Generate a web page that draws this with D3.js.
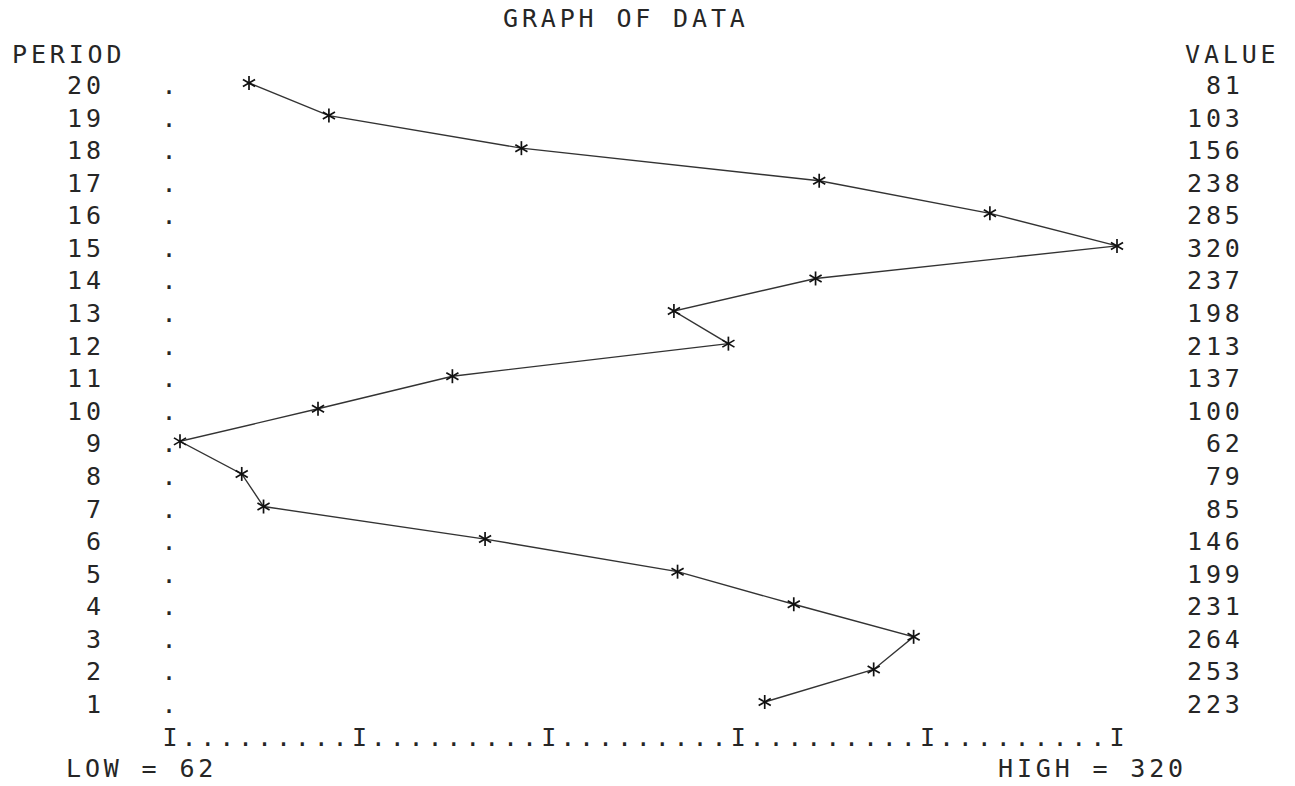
<!DOCTYPE html>
<html>
<head>
<meta charset="utf-8">
<script src="https://cdn.jsdelivr.net/npm/d3@7"></script>
<style>
  html, body { margin: 0; padding: 0; background: #fff; }
  svg { display: block; }
  text { font-family: "DejaVu Sans Mono", monospace; font-size: 25px; fill: #262626; }
</style>
</head>
<body>
<svg id="chart" width="1295" height="786"></svg>
<script>
// ---- data ----
const periods = [1,2,3,4,5,6,7,8,9,10,11,12,13,14,15,16,17,18,19,20];
const values  = [223,253,264,231,199,146,85,79,62,100,137,213,198,237,320,285,238,156,103,81];
const title = "GRAPH OF DATA";
const leftHeader = "PERIOD";
const rightHeader = "VALUE";
const low = 62, high = 320;
const tickCount = 6;            // number of "I" marks on the value axis
const dotsBetween = 9;          // dots between "I" marks

// ---- layout ----
const adv = 18.9;               // character cell width
const fs = 25;
const ls = adv - 0.602 * fs;    // letter spacing to reach cell width
const half = 0.602 * fs / 2;    // half glyph width

const svg = d3.select("#chart");
const xAxis = d3.scaleLinear().domain([low, high]).range([170, 1117]);
const x = d3.scaleLinear().domain([low, high]).range([180, 1117]);
const y = d3.scaleLinear().domain([20, 1]).range([83, 702]);
const baseOff = 11;

function txt(str, xs, yb) {
  return svg.append("text").attr("x", xs).attr("y", yb)
    .style("letter-spacing", ls + "px").text(str);
}
const rightAlign = (str, rightEdge) => rightEdge - str.length * adv;

// title & headers
txt(title, 503, 27);
txt(leftHeader, 12, 63);
txt(rightHeader, 1185, 63);

// period labels, dots, values
periods.forEach((p, i) => {
  const yb = y(p) + baseOff;
  const ps = String(p);
  txt(ps, rightAlign(ps, 104.8), yb);
  txt(".", xAxis(low) - half - 1, yb);
  const vs = String(values[i]);
  txt(vs, rightAlign(vs, 1243.7), yb);
});

// bottom axis made of I and dots
const axisY = y(0) + baseOff;
const tickVals = d3.range(tickCount).map(k => low + k * (high - low) / (tickCount - 1));
tickVals.forEach((t, k) => {
  txt("I", xAxis(t) - half, axisY);
  if (k < tickCount - 1) {
    txt(".".repeat(dotsBetween), xAxis(t) - half + adv, axisY);
  }
});

txt("LOW = " + low, 66, 777);
txt("HIGH = " + high, 998, 777);

// line
const pts = periods.map((p, i) => [x(values[i]), y(p)]);
svg.append("path")
  .attr("d", d3.line()(pts))
  .attr("fill", "none")
  .attr("stroke", "#333")
  .attr("stroke-width", 1.4);

// asterisks
const r = 7;
const c = Math.cos(Math.PI / 6), s = Math.sin(Math.PI / 6);
const star = [
  [0, -r, 0, r],
  [-r * c, -r * s, r * c, r * s],
  [-r * c, r * s, r * c, -r * s]
];
const g = svg.append("g");
pts.forEach(([px, py]) => {
  star.forEach(sg => {
    g.append("line")
      .attr("x1", px + sg[0]).attr("y1", py + sg[1])
      .attr("x2", px + sg[2]).attr("y2", py + sg[3])
      .attr("stroke", "#111").attr("stroke-width", 1.7);
  });
});
</script>
</body>
</html>
